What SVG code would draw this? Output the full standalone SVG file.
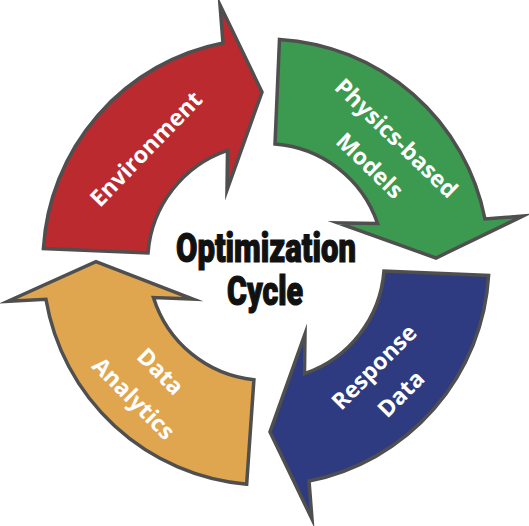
<svg xmlns="http://www.w3.org/2000/svg" width="529" height="526" viewBox="0 0 529 526">
<style>
.arrow{stroke:#4f4f4f;stroke-width:3.5;stroke-linejoin:miter;stroke-miterlimit:10}
.lbl{font-family:"Open Sans","Liberation Sans",sans-serif;font-weight:700;font-size:23px;fill:#ffffff;text-anchor:middle}
.title{font-family:Roboto,"Liberation Sans",sans-serif;font-weight:900;font-size:40px;fill:#111111;stroke:#111111;stroke-width:1.2;text-anchor:middle}
</style>
<defs>
<path id="arr" d="M 43.4,248.5 A 223 223 0 0 1 223,43 L 220,5 L 262,92 L 227,190 L 227.5,150.4 A 118 118 0 0 0 148,253 Z"/>
</defs>
<g id="environment">
<use href="#arr" class="arrow" fill="#BB2A2F"/>
<text class="lbl" transform="translate(146,149) rotate(-46)" y="8">Environment</text>
</g>
<g id="physics-based-models">
<use href="#arr" class="arrow" fill="#3C9A50" transform="rotate(90 266 262)"/>
<text class="lbl" transform="translate(383,152) rotate(44)"><tspan x="0" y="-11">Physics-based</tspan><tspan x="0" y="27">Models</tspan></text>
</g>
<g id="response-data">
<use href="#arr" class="arrow" fill="#2E3B80" transform="rotate(180 266 262)"/>
<text class="lbl" transform="translate(387.5,380.5) rotate(-45)"><tspan x="0" y="-11">Response</tspan><tspan x="0" y="27">Data</tspan></text>
</g>
<g id="data-analytics">
<use href="#arr" class="arrow" fill="#DFA64F" transform="rotate(271.5 266 262)"/>
<text class="lbl" transform="translate(147,385) rotate(45)"><tspan x="0" y="-11">Data</tspan><tspan x="0" y="27">Analytics</tspan></text>
</g>
<g id="optimization-cycle">
<text class="title" x="266" y="262" textLength="180" lengthAdjust="spacingAndGlyphs">Optimization</text>
<text class="title" x="265" y="305" textLength="76" lengthAdjust="spacingAndGlyphs">Cycle</text>
</g>
</svg>
